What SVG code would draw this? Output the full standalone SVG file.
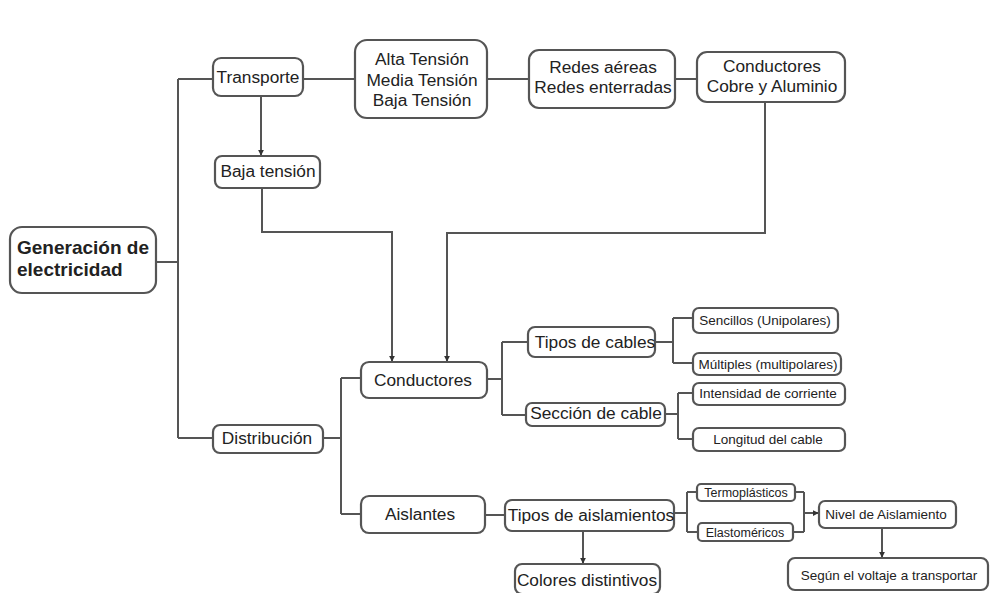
<svg xmlns="http://www.w3.org/2000/svg" width="990" height="593" viewBox="0 0 990 593">
<style>
.box{fill:#fff;stroke:#555;stroke-width:2.2}
.t{font-family:"Liberation Sans",Arial,sans-serif;fill:#222;text-anchor:middle}
.l{font-size:17.3px}
.s{font-size:13.5px}
.xs{font-size:12.5px}
.c{fill:none;stroke:#555;stroke-width:2}
</style>
<defs>
<marker id="a" viewBox="0 0 8 8" refX="7" refY="4" markerWidth="6" markerHeight="6" orient="auto" markerUnits="userSpaceOnUse">
<path d="M0,0 L8,4 L0,8 z" fill="#333"/>
</marker>
</defs>
<rect width="990" height="593" fill="#fff"/>
<g id="connectors">
<path class="c" d="M156,262 H178 M178,79 V438 M178,79 H213 M178,438 H213"/>
<path class="c" d="M303,79 H355 M487,79 H529 M675,79 H697"/>
<path class="c" d="M261,96 V155" marker-end="url(#a)"/>
<path class="c" d="M262,188 V232 H392 V361" marker-end="url(#a)"/>
<path class="c" d="M765,102 V233 H447 V361" marker-end="url(#a)"/>
<path class="c" d="M323,438 H341 M341,378 V514 M341,378 H361 M341,514 H361"/>
<path class="c" d="M487,379 H502 M502,342 V415 M502,342 H528 M502,415 H526"/>
<path class="c" d="M655,342 H673 M673,318 V363 M673,318 H693 M673,363 H693"/>
<path class="c" d="M665,414 H678 M678,393 V439 M678,393 H693 M678,439 H693"/>
<path class="c" d="M485,515 H505"/>
<path class="c" d="M583,531 V563" marker-end="url(#a)"/>
<path class="c" d="M674,513 H687 M687,492 V532 M687,492 H697 M687,532 H698"/>
<path class="c" d="M795,492 H804 M793,532 H804 M804,492 V532"/>
<path class="c" d="M804,513 H818" marker-end="url(#a)"/>
<path class="c" d="M882,528 V557" marker-end="url(#a)"/>
</g>
<g id="gen"><rect class="box" x="10" y="227" width="146" height="66" rx="12"/>
<text class="t" style="font-size:19px;font-weight:bold;text-anchor:start" x="17" y="254">Generación de</text>
<text class="t" style="font-size:19px;font-weight:bold;text-anchor:start" x="17" y="276">electricidad</text></g>
<g id="transporte"><rect class="box" x="213" y="58" width="90" height="38" rx="8"/>
<text class="t l" x="258" y="83">Transporte</text></g>
<g id="tensiones"><rect class="box" x="355" y="40" width="132" height="78" rx="12"/>
<text class="t l" x="422" y="65">Alta Tensión</text>
<text class="t l" x="422" y="86">Media Tensión</text>
<text class="t l" x="422" y="106">Baja Tensión</text></g>
<g id="redes"><rect class="box" x="529" y="50" width="146" height="58" rx="10"/>
<text class="t l" x="603" y="73">Redes aéreas</text>
<text class="t l" x="603" y="93">Redes enterradas</text></g>
<g id="conductores-cobre"><rect class="box" x="697" y="52" width="148" height="50" rx="10"/>
<text class="t l" x="772" y="72">Conductores</text>
<text class="t l" x="772" y="92">Cobre y Aluminio</text></g>
<g id="baja-tension"><rect class="box" x="215" y="156" width="105" height="32" rx="7"/>
<text class="t l" x="268" y="177">Baja tensión</text></g>
<g id="conductores"><rect class="box" x="361" y="362" width="126" height="36" rx="8"/>
<text class="t l" x="423" y="386">Conductores</text></g>
<g id="distribucion"><rect class="box" x="213" y="425" width="110" height="28" rx="7"/>
<text class="t l" x="267" y="444">Distribución</text></g>
<g id="tipos-cables"><rect class="box" x="528" y="327" width="127" height="30" rx="7"/>
<text class="t l" x="595" y="348">Tipos de cables</text></g>
<g id="seccion"><rect class="box" x="526" y="403" width="139" height="23" rx="6"/>
<text class="t l" x="596" y="419">Sección de cable</text></g>
<g id="sencillos"><rect class="box" x="693" y="308" width="145" height="25" rx="6"/>
<text class="t s" x="765" y="325">Sencillos (Unipolares)</text></g>
<g id="multiples"><rect class="box" x="693" y="353" width="148" height="22" rx="6"/>
<text class="t s" x="768" y="369">Múltiples (multipolares)</text></g>
<g id="intensidad"><rect class="box" x="693" y="383" width="152" height="22" rx="6"/>
<text class="t s" x="768" y="398">Intensidad de corriente</text></g>
<g id="longitud"><rect class="box" x="693" y="428" width="152" height="23" rx="6"/>
<text class="t s" x="768" y="444">Longitud del cable</text></g>
<g id="aislantes"><rect class="box" x="361" y="496" width="124" height="37" rx="8"/>
<text class="t l" x="420" y="520">Aislantes</text></g>
<g id="tipos-aislamientos"><rect class="box" x="505" y="500" width="169" height="31" rx="7"/>
<text class="t l" x="591" y="521">Tipos de aislamientos</text></g>
<g id="colores"><rect class="box" x="515" y="564" width="145" height="30" rx="7"/>
<text class="t l" x="587" y="586">Colores distintivos</text></g>
<g id="termoplasticos"><rect class="box" x="697" y="484" width="98" height="17" rx="4"/>
<text class="t xs" x="746" y="497">Termoplásticos</text></g>
<g id="elastomericos"><rect class="box" x="698" y="523" width="95" height="18" rx="4"/>
<text class="t xs" x="745" y="537">Elastoméricos</text></g>
<g id="nivel"><rect class="box" x="819" y="501" width="137" height="27" rx="6"/>
<text class="t s" x="886" y="519">Nivel de Aislamiento</text></g>
<g id="segun"><rect class="box" x="788" y="558" width="200" height="32" rx="7"/>
<text class="t s" x="889" y="580">Según el voltaje a transportar</text></g>
</svg>
